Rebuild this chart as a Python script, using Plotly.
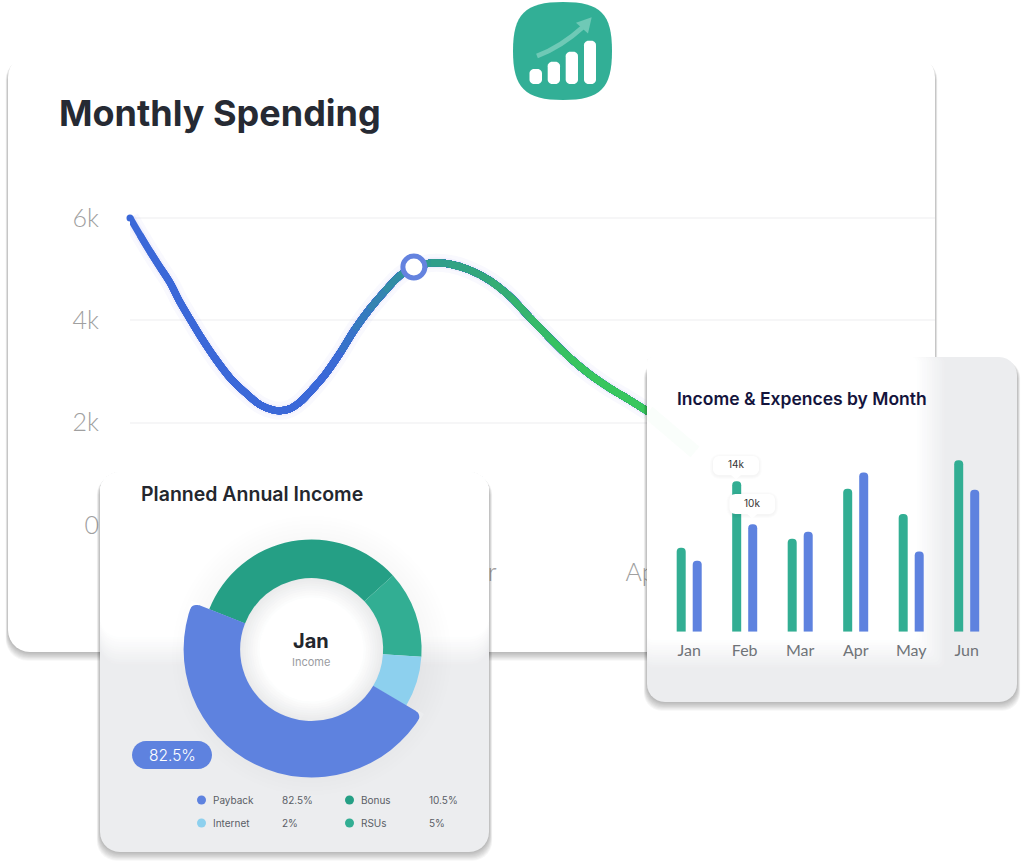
import numpy as np
import plotly.graph_objects as go

# ---------- data ----------
spend_month = [-0.03,0.03,0.09,0.15,0.21,0.26,0.32,0.38,0.47,0.56,0.65,0.74,0.81,0.85,0.91,0.97,1.04,1.12,1.21,1.29,
               1.38,1.47,1.56,1.64,1.74,1.85,1.97,2.09,2.21,2.32,2.44,2.56,2.68,2.79,2.91,3.02]
spend_value = [6.00,5.66,5.33,5.02,4.71,4.38,4.04,3.71,3.26,2.87,2.58,2.34,2.25,2.23,2.27,2.40,2.64,2.95,3.38,3.81,
               4.22,4.57,4.88,5.04,5.12,5.10,4.98,4.77,4.45,4.06,3.65,3.26,2.93,2.68,2.44,2.21]
highlight_month = [1.64]
highlight_value = [5.04]
main_months = ["Jan","Feb","Mar","Apr","May"]
main_ytick_vals = [0,2,4,6]
main_ytick_text = ["0","2k","4k","6k"]

bar_months = ["Jan","Feb","Mar","Apr","May","Jun"]
bar_income = [7.8,14,8.65,13.3,10.95,15.95]
bar_expense = [6.6,10,9.3,14.8,7.45,13.2]

blue_slice = [47.5,52.5]
rest_slices = [32.3,12.8,7.5,47.4]
rest_labels = ["Bonus","RSUs","Internet",""]
legend_names = ["Payback","Internet","Bonus","RSUs"]
legend_values = ["82.5%","2%","10.5%","5%"]

# ---------- palette ----------
BLUE="#5e82df"; TEAL="#32ae93"; DTEAL="#259f85"; SKY="#8dd0ee"; GRAY="#ecedef"
FONT="Inter"; SOFT="Lato"

W,H=1024,868
X=lambda p:p/W
Y=lambda p:1-p/H

def hex2rgb(c): return np.array([int(c[i:i+2],16) for i in (1,3,5)],float)
def lerp(a,b,t):
    v=hex2rgb(a)*(1-t)+hex2rgb(b)*t
    return "rgb(%d,%d,%d)"%tuple(v.round())
def grad(x):
    stops=[(-0.1,"#3b68d8"),(1.1,"#3b68d8"),(1.6,"#2f9a93"),(2.0,"#33a87a"),(2.5,"#38c45f"),(3.1,"#38c95d")]
    for (a,ca),(b,cb) in zip(stops,stops[1:]):
        if a<=x<=b: return lerp(ca,cb,(x-a)/(b-a))
    return stops[-1][1]
def rr_pts(x0,y0,x1,y1,r):
    xs=[];ys=[]
    for cx,cy,s in [(x1-r,y0+r,-90),(x1-r,y1-r,0),(x0+r,y1-r,90),(x0+r,y0+r,180)]:
        a=np.radians(np.linspace(s,s+90,8))
        xs+=list(cx+r*np.cos(a)); ys+=list(cy+r*np.sin(a))
    return xs+xs[:1],ys+ys[:1]
def rr_path(x0,y0,x1,y1,r):
    a,b=rr_pts(x0,y0,x1,y1,r)
    return "M"+" L".join(f"{X(u):.5f},{Y(v):.5f}" for u,v in zip(a,b))+" Z"

fig=go.Figure()
shapes=[];ann=[]

# ---------- main card (below everything) ----------
MC=(8,55,935,652)
for i in range(8,0,-1):
    shapes.append(dict(type="path",xref="paper",yref="paper",layer="below",line_width=0,
        path=rr_path(MC[0]-i*.3,MC[1]+3,MC[2]+i*.3,MC[3]+i*1.1,22),fillcolor="rgba(0,0,0,0.035)"))
shapes.append(dict(type="path",xref="paper",yref="paper",layer="below",line_width=0,
    path=rr_path(*MC,22),fillcolor="#ffffff"))

# ---------- main line: each trace repaints the rest of the curve in the next gradient colour ----------
fig.add_trace(go.Scatter(x=spend_month,y=spend_value,mode="lines",line=dict(color="rgba(90,80,235,0.035)",width=18,shape="spline"),cliponaxis=False,hoverinfo="skip"))
fig.add_trace(go.Scatter(x=spend_month,y=spend_value,mode="lines",line=dict(color="rgba(90,80,235,0.05)",width=11,shape="spline"),cliponaxis=False,hoverinfo="skip"))
fig.add_trace(go.Scatter(x=spend_month[:1],y=spend_value[:1],mode="markers",marker=dict(color=grad(spend_month[0]),size=7),cliponaxis=False,hoverinfo="skip"))
for i in range(len(spend_month)-1):
    fig.add_trace(go.Scatter(x=spend_month[i:],y=spend_value[i:],mode="lines",
        line=dict(color=grad(spend_month[i]),width=7,shape="spline"),cliponaxis=False,hoverinfo="skip"))
fig.add_trace(go.Scatter(x=highlight_month,y=highlight_value,mode="markers",cliponaxis=False,hoverinfo="skip",
    marker=dict(size=22,color="#ffffff",line=dict(color="#6483df",width=5))))

# ---------- glass cards ----------
bd=dict(xaxis="x2",yaxis="y2",mode="lines",hoverinfo="skip",line=dict(width=0))
def card(x0,y0,x1,y1,r,wx,wy,bands=12,reach=30):
    for i in range(8,0,-1):
        a,b=rr_pts(x0-i*.4,y0+3,x1+i*.4,y1+i*1.1,r)
        fig.add_trace(go.Scatter(x=a,y=b,fill="toself",fillcolor="rgba(0,0,0,0.035)",**bd))
    a,b=rr_pts(x0,y0,x1,y1,r)
    fig.add_trace(go.Scatter(x=a,y=b,fill="toself",fillcolor=GRAY,**bd))
    for k in range(bands):
        t=(k+1)/bands
        sx=min(x1,wx-reach*t+reach/2); sy=min(y1,wy-reach*t+reach/2)
        a,b=rr_pts(x0,y0,sx,sy,r if sx>=x1 else min(r,6))
        fig.add_trace(go.Scatter(x=a,y=b,fill="toself",fillcolor=lerp(GRAY,"#ffffff",t),**bd))
card(100,472,489,852,20,600,652,reach=30)
card(647,357,1017,702,18,932,655,reach=30)

# faint trace of the curve seen through the right card
fig.add_trace(go.Scatter(x=[648,670,695],y=[412,432,452],xaxis="x2",yaxis="y2",mode="lines",hoverinfo="skip",
    line=dict(color="rgba(56,201,93,0.025)",width=14)))

# donut surroundings
CX,CY=311.6,649.5
ang=np.radians(np.linspace(0,360,73))
for i,r in enumerate(np.linspace(140,112,8)):
    fig.add_trace(go.Scatter(x=CX+r*np.cos(ang),y=CY+6+r*np.sin(ang),fill="toself",fillcolor="rgba(0,0,0,0.005)",**bd))
for i,r in enumerate(np.linspace(73,52,10)):
    fig.add_trace(go.Scatter(x=CX+r*np.cos(ang),y=CY+r*np.sin(ang),fill="toself",fillcolor=lerp("#e6e7e8","#ffffff",(i+1)/10),**bd))

# legend of the donut
legend_x=[201.5,201.5,349.5,349.5]; legend_y=[800,823,800,823]
fig.add_trace(go.Scatter(x=legend_x,y=legend_y,xaxis="x2",yaxis="y2",mode="markers",hoverinfo="skip",
    marker=dict(size=9,color=[BLUE,SKY,DTEAL,TEAL])))

# ---------- bars ----------
fig.add_trace(go.Bar(x=bar_months,y=bar_income,xaxis="x3",yaxis="y3",marker=dict(color=TEAL,line_width=0),hoverinfo="skip"))
fig.add_trace(go.Bar(x=bar_months,y=bar_expense,xaxis="x3",yaxis="y3",marker=dict(color=BLUE,line_width=0),hoverinfo="skip"))

# ---------- donut ----------
def dom(r): return dict(x=[X(CX-r),X(CX+r)],y=[Y(CY+r),Y(CY-r)])
fig.add_trace(go.Pie(values=rest_slices,labels=rest_labels,hole=71.5/110,domain=dom(110),rotation=291.4,sort=False,direction="clockwise",
    marker=dict(colors=[DTEAL,TEAL,SKY,"rgba(0,0,0,0)"],line_width=0),textinfo="none",hoverinfo="skip",showlegend=False))
fig.add_trace(go.Pie(values=blue_slice,labels=["Payback",""],hole=71.5/128,domain=dom(128),rotation=120.5,sort=False,direction="clockwise",
    marker=dict(colors=[BLUE,"rgba(0,0,0,0)"],line_width=0),textinfo="none",hoverinfo="skip",showlegend=False))

# rounded outer corners of the blue slice
def notch(deg,side,rho=7,R=128):
    th=np.radians(deg)
    ux,uy=np.sin(th),-np.cos(th)          # radial, outwards
    tx,ty=np.cos(th)*side,np.sin(th)*side # tangent, into the slice
    c=np.array([CX+R*ux,CY+R*uy])
    u=-np.array([ux,uy]); v=np.array([tx,ty])
    o=c+u*rho+v*rho
    pts=[o-v*rho*np.cos(a)-u*rho*np.sin(a) for a in np.linspace(0,np.pi/2,8)]
    pts=pts+[c+v*rho-u*1.5,c-u*1.5-v*1.5,c+u*rho-v*1.5]
    return "M"+" L".join(f"{X(p[0]):.5f},{Y(p[1]):.5f}" for p in pts)+" Z"
shapes.append(dict(type="path",xref="paper",yref="paper",layer="above",line_width=0,fillcolor="#ffffff",path=notch(291.4,-1)))
shapes.append(dict(type="path",xref="paper",yref="paper",layer="above",line_width=0,fillcolor=GRAY,path=notch(120.5,1)))

# ---------- annotations ----------
def txt(s,x,y,size,color,anchor="left",weight=400,family=FONT):
    ann.append(dict(text=s,x=X(x),y=Y(y),xref="paper",yref="paper",showarrow=False,xanchor=anchor,yanchor="middle",
        font=dict(size=size,color=color,family=family,weight=weight),borderpad=0,align=anchor))
txt("Monthly Spending",58,113,36,"#262a33",weight=700)
txt("Planned Annual Income",140,494,19.5,"#24272e",weight=600)
txt("Income &amp; Expences by Month",676,398,17.5,"#14143c",weight=600)
txt("Jan",311,641,20,"#23262d","center",700)
txt("Income",311,662,11,"#9a9c9f","center")
txt("82.5%",172,755,15.5,"#ffffff","center",300)
for n,x,y in zip(legend_names,[212,212,360,360],[800,823,800,823]):
    txt(n,x,y,10,"#5a5e66")
for v,x,y in zip(legend_values,[281,281,428,428],[800,823,800,823]):
    txt(v,x,y,10,"#5a5e66")
txt("14k",736,464,10,"#333","center")
txt("10k",752,503,10,"#333","center")

# pill
shapes.append(dict(type="path",xref="paper",yref="paper",layer="above",line_width=0,path=rr_path(132,741,212,769,14),fillcolor=BLUE))

# bubbles
def bubble(x0,y0,x1,y1):
    r=6; m=(x0+x1)/2
    tri=f"M{X(m-5):.5f},{Y(y1):.5f} L{X(m):.5f},{Y(y1+4.5):.5f} L{X(m+5):.5f},{Y(y1):.5f} Z"
    for i in (3,2,1):
        shapes.append(dict(type="path",xref="paper",yref="paper",layer="above",line_width=0,
            path=rr_path(x0-i,y0-i+1,x1+i,y1+i+1,r+i),fillcolor="rgba(0,0,0,0.012)"))
    shapes.append(dict(type="path",xref="paper",yref="paper",layer="above",line_width=0,path=rr_path(x0,y0,x1,y1,r),fillcolor="#ffffff"))
    shapes.append(dict(type="path",xref="paper",yref="paper",layer="above",line_width=0,path=tri,fillcolor="#ffffff"))
bubble(713,456,759,475)
bubble(729.5,494,775,514)

# logo
def P(*seq):
    out=[]
    for s in seq:
        if isinstance(s,str): out.append(s)
        else: out.append(f"{X(s[0]):.5f},{Y(s[1]):.5f}")
    return " ".join(out)
shapes.append(dict(type="path",xref="paper",yref="paper",layer="above",line_width=0,fillcolor="#32af96",
    path=P("M",(563,2),"C",(601,2),(612,14),(612,51),"C",(612,88),(601,100),(563,100),"C",(525,100),(513,88),(513,51),"C",(513,14),(525,2),(563,2),"Z")))
for x0,x1,y0 in [(529.5,542,69),(547.7,560,61.7),(565.7,578,51.7),(584,596,40.7)]:
    shapes.append(dict(type="path",xref="paper",yref="paper",layer="above",line_width=0,fillcolor="#ffffff",path=rr_path(x0,y0,x1,84,4.5)))
shapes.append(dict(type="path",xref="paper",yref="paper",layer="above",line=dict(color="#6fc9b6",width=5),fillcolor="rgba(0,0,0,0)",
    path=P("M",(537,56),"Q",(561,47),(583,27))))
shapes.append(dict(type="path",xref="paper",yref="paper",layer="above",line_width=0,fillcolor="#6fc9b6",
    path=P("M",(591.7,17.3),"L",(576,22.7),"L",(588,33.5),"Z")))

# ---------- layout ----------
fig.update_layout(
    template="none",
    width=W,height=H,margin=dict(l=0,r=0,t=0,b=0,pad=0),paper_bgcolor="#ffffff",plot_bgcolor="rgba(0,0,0,0)",
    showlegend=False,hovermode=False,shapes=shapes,annotations=ann,
    barmode="group",bargap=0.423,bargroupgap=0.4375,barcornerradius=4.5,
    xaxis=dict(automargin=False,domain=[X(130),X(935)],range=[-0.03,4.706],tickvals=[0,1,2,3,4],ticktext=main_months,showgrid=False,zeroline=False,
        showline=False,ticks="",tickfont=dict(family=SOFT,size=25,color="#a0a0a0",weight=300),ticklabelstandoff=30),
    yaxis=dict(automargin=False,domain=[Y(525),Y(200)],range=[0,6.35],tickvals=main_ytick_vals,ticktext=main_ytick_text,showgrid=True,gridcolor="#f6f6f7",gridwidth=1.5,
        zeroline=False,showline=False,ticks="",tickfont=dict(family=SOFT,size=25,color="#a0a0a0",weight=300),ticklabelstandoff=30),
    xaxis2=dict(automargin=False,domain=[0,1],range=[0,W],visible=False,anchor="y2"),
    yaxis2=dict(automargin=False,domain=[0,1],range=[H,0],visible=False,anchor="x2"),
    xaxis3=dict(automargin=False,domain=[X(661.45),X(994.45)],anchor="y3",categoryorder="array",categoryarray=bar_months,showgrid=False,zeroline=False,showline=False,ticks="",
        tickfont=dict(family=SOFT,size=16,color="#6f7378"),ticklabelstandoff=7),
    yaxis3=dict(automargin=False,domain=[Y(631.7),Y(416.7)],range=[0,20],visible=False,anchor="x3"),
)
fig.write_html("out.html",config=dict(displayModeBar=False),post_script="document.body.style.margin='0';")
